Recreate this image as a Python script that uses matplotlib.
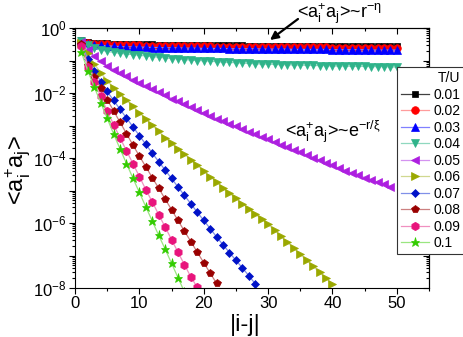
import numpy as np
import matplotlib
matplotlib.use("Agg")
import matplotlib.pyplot as plt
from matplotlib.ticker import LogLocator, MultipleLocator, FuncFormatter, NullFormatter

plt.rcParams['font.family'] = ['Liberation Sans', 'DejaVu Sans']
plt.rcParams['mathtext.fontset'] = 'custom'
plt.rcParams['mathtext.rm'] = 'Liberation Sans'
plt.rcParams['mathtext.it'] = 'Liberation Sans:italic'
plt.rcParams['mathtext.bf'] = 'Liberation Sans:bold'

# log10 of <a_i^+ a_j>, at |i-j| = 1, 2, 3, ...
temps = ["0.01", "0.02", "0.03", "0.04", "0.05", "0.06", "0.07", "0.08", "0.09", "0.1"]

log_t001 = [-0.38, -0.43, -0.45, -0.46, -0.47, -0.48, -0.48, -0.49, -0.49, -0.50,
            -0.50, -0.50, -0.51, -0.51, -0.51, -0.51, -0.52, -0.52, -0.52, -0.52,
            -0.52, -0.53, -0.53, -0.53, -0.53, -0.53, -0.54, -0.54, -0.54, -0.54,
            -0.54, -0.54, -0.54, -0.54, -0.55, -0.55, -0.55, -0.55, -0.55, -0.55,
            -0.55, -0.55, -0.55, -0.55, -0.55, -0.56, -0.56, -0.56, -0.56, -0.56]
log_t002 = [-0.40, -0.46, -0.48, -0.49, -0.50, -0.51, -0.52, -0.52, -0.53, -0.53,
            -0.54, -0.54, -0.54, -0.55, -0.55, -0.55, -0.55, -0.56, -0.56, -0.56,
            -0.56, -0.57, -0.57, -0.57, -0.57, -0.57, -0.58, -0.58, -0.58, -0.58,
            -0.58, -0.58, -0.59, -0.59, -0.59, -0.59, -0.59, -0.59, -0.59, -0.60,
            -0.60, -0.60, -0.60, -0.60, -0.60, -0.60, -0.61, -0.61, -0.61, -0.61]
log_t003 = [-0.40, -0.48, -0.51, -0.53, -0.55, -0.56, -0.57, -0.58, -0.58, -0.59,
            -0.59, -0.60, -0.60, -0.61, -0.61, -0.61, -0.62, -0.62, -0.62, -0.63,
            -0.63, -0.63, -0.63, -0.64, -0.64, -0.64, -0.64, -0.64, -0.65, -0.65,
            -0.65, -0.65, -0.65, -0.66, -0.66, -0.66, -0.66, -0.66, -0.66, -0.67,
            -0.67, -0.67, -0.67, -0.67, -0.67, -0.68, -0.68, -0.68, -0.68, -0.68]
log_t004 = [-0.40, -0.53, -0.62, -0.68, -0.72, -0.75, -0.78, -0.80, -0.82, -0.84,
            -0.86, -0.88, -0.90, -0.92, -0.94, -0.95, -0.97, -0.99, -1.00, -1.01,
            -1.02, -1.04, -1.05, -1.06, -1.07, -1.08, -1.09, -1.10, -1.11, -1.11,
            -1.12, -1.13, -1.13, -1.14, -1.14, -1.15, -1.15, -1.16, -1.16, -1.17,
            -1.17, -1.17, -1.18, -1.18, -1.18, -1.19, -1.19, -1.19, -1.20, -1.20]
log_t005 = [-0.42, -0.68, -0.87, -1.03, -1.17, -1.28, -1.39, -1.49, -1.59, -1.68,
            -1.78, -1.88, -1.97, -2.07, -2.17, -2.26, -2.35, -2.44, -2.53, -2.62,
            -2.71, -2.79, -2.87, -2.95, -3.03, -3.11, -3.19, -3.27, -3.35, -3.43,
            -3.51, -3.59, -3.67, -3.75, -3.83, -3.91, -3.99, -4.07, -4.15, -4.23,
            -4.31, -4.39, -4.46, -4.53, -4.60, -4.67, -4.74, -4.81, -4.88]
log_t006 = [-0.45, -0.78, -1.10, -1.38, -1.62, -1.84, -2.03, -2.22, -2.41, -2.60,
            -2.80, -2.99, -3.18, -3.37, -3.55, -3.73, -3.88, -4.05, -4.22, -4.40,
            -4.57, -4.74, -4.91, -5.08, -5.24, -5.40, -5.56, -5.72, -5.88, -6.04,
            -6.22, -6.41, -6.59, -6.78, -6.96, -7.15, -7.33, -7.52, -7.70, -7.88]
log_t007 = [-0.50, -0.95, -1.32, -1.65, -1.95, -2.23, -2.50, -2.77, -3.04, -3.31,
            -3.58, -3.85, -4.11, -4.37, -4.63, -4.89, -5.15, -5.41, -5.67, -5.92,
            -6.17, -6.43, -6.67, -6.91, -7.15, -7.38, -7.62, -7.87]
log_t008 = [-0.50, -1.15, -1.50, -1.85, -2.20, -2.55, -2.90, -3.25, -3.60, -3.94,
            -4.27, -4.60, -4.93, -5.26, -5.59, -5.92, -6.25, -6.57, -6.90, -7.22,
            -7.54, -7.86]
log_t009 = [-0.55, -1.20, -1.65, -2.10, -2.55, -2.97, -3.38, -3.78, -4.17, -4.57,
            -4.97, -5.35, -5.74, -6.12, -6.51, -6.90, -7.28, -7.66, -7.98]
log_t010 = [-0.75, -1.32, -1.82, -2.30, -2.78, -3.26, -3.72, -4.17, -4.62, -5.06,
            -5.50, -5.94, -6.38, -6.80, -7.24, -7.68, -8.12]

series = [log_t001, log_t002, log_t003, log_t004, log_t005,
          log_t006, log_t007, log_t008, log_t009, log_t010]

markers = ['s', 'o', '^', 'v', '<', '>', 'D', 'p', 'h', '*']
msizes = [5, 5.5, 5.5, 5.5, 5.5, 5.5, 4.5, 6, 6, 6.5]
mcolors = ['#000000', '#ff0000', '#0000ff', '#2fb38a', '#ad1fe0',
           '#9aa800', '#0012c8', '#990000', '#e8147c', '#33cc00']
lcolors = ['#404040', '#ff9c9c', '#8080ff', '#8fd8bf', '#d493f0',
           '#d0d890', '#8090e8', '#cc8080', '#f090c0', '#9ae680']

fig = plt.figure(figsize=(4.63, 3.37), dpi=100)
ax = fig.add_axes([75/463, 1 - 288/337, 354/463, 260/337])

for lab, ys, m, ms, mc, lc in zip(temps, series, markers, msizes, mcolors, lcolors):
    r = np.arange(1, len(ys) + 1)
    ax.plot(r, 10.0 ** np.array(ys), color=lc, lw=0.9, marker=m, ms=ms,
            mfc=mc, mec=mc, mew=0.5, label=lab)

ax.set_yscale('log')
ax.set_xlim(0, 55)
ax.set_ylim(1e-8, 1)

ax.xaxis.set_major_locator(MultipleLocator(10))
ax.xaxis.set_minor_locator(MultipleLocator(5))
ax.yaxis.set_major_locator(LogLocator(base=10, numticks=20))
ax.yaxis.set_minor_locator(LogLocator(base=10, subs=np.arange(2, 10), numticks=20))
ax.yaxis.set_minor_formatter(NullFormatter())


def even_decades(v, pos):
    e = int(round(np.log10(v)))
    if e % 2:
        return ''
    return r'$\mathregular{10^{%d}}$' % e


ax.yaxis.set_major_formatter(FuncFormatter(even_decades))

for side in ['left', 'right', 'top', 'bottom']:
    ax.spines[side].set_linewidth(0.8)
ax.tick_params(which='both', direction='out', top=False, right=False, width=0.8,
               labelsize=12, pad=2)
ax.tick_params(which='major', length=4)
ax.tick_params(which='minor', length=2.2)

# mirrored ticks, pointing in, on top and right
sx = ax.secondary_xaxis('top')
sx.xaxis.set_major_locator(MultipleLocator(10))
sx.xaxis.set_minor_locator(MultipleLocator(5))
sx.tick_params(which='major', direction='in', length=4, width=0.8, labeltop=False)
sx.tick_params(which='minor', direction='in', length=2.2, width=0.8)
sy = ax.secondary_yaxis('right')
sy.yaxis.set_major_locator(LogLocator(base=10, numticks=20))
sy.yaxis.set_minor_locator(LogLocator(base=10, subs=np.arange(2, 10), numticks=20))
sy.yaxis.set_minor_formatter(NullFormatter())
sy.tick_params(which='major', direction='in', length=4, width=0.8, labelright=False)
sy.tick_params(which='minor', direction='in', length=2.2, width=0.8)

fig.text(18/463, 1 - 170/337, r'<a$_\mathregular{i}^\mathregular{+}$a$_\mathregular{j}$>',
         rotation=90, ha='center', va='center', fontsize=17)
fig.text(245/463, 1 - 325/337, '|i-j|', ha='center', va='center', fontsize=17)

fig.text(339/463, 1 - 14/337,
         r'<a$_\mathregular{i}^\mathregular{+}$a$_\mathregular{j}$>~r$^\mathregular{-\eta}$',
         ha='center', va='center', fontsize=13)
ax.annotate('', xy=(270/463, 1 - 40/337), xytext=(298/463, 1 - 19/337),
            xycoords='figure fraction', textcoords='figure fraction',
            arrowprops=dict(arrowstyle='-|>', color='k', lw=1.6, mutation_scale=12,
                            shrinkA=0, shrinkB=0))
fig.text(333/463, 1 - 132/337,
         r'<a$_\mathregular{i}^\mathregular{+}$a$_\mathregular{j}$>~e$^\mathregular{-r/\xi}$',
         ha='center', va='center', fontsize=13)

leg = ax.legend(title='T/U', loc='upper left', bbox_to_anchor=(397/463, 1 - 67/337),
                bbox_transform=fig.transFigure, fontsize=10, title_fontsize=10,
                frameon=True, fancybox=False, edgecolor='#333333', framealpha=1,
                handlelength=2.0, handletextpad=0.3, labelspacing=0.18,
                borderpad=0.3, borderaxespad=0)
leg.get_frame().set_linewidth(0.8)
leg._legend_box.align = 'right'

fig.savefig('out.png', dpi=100)
